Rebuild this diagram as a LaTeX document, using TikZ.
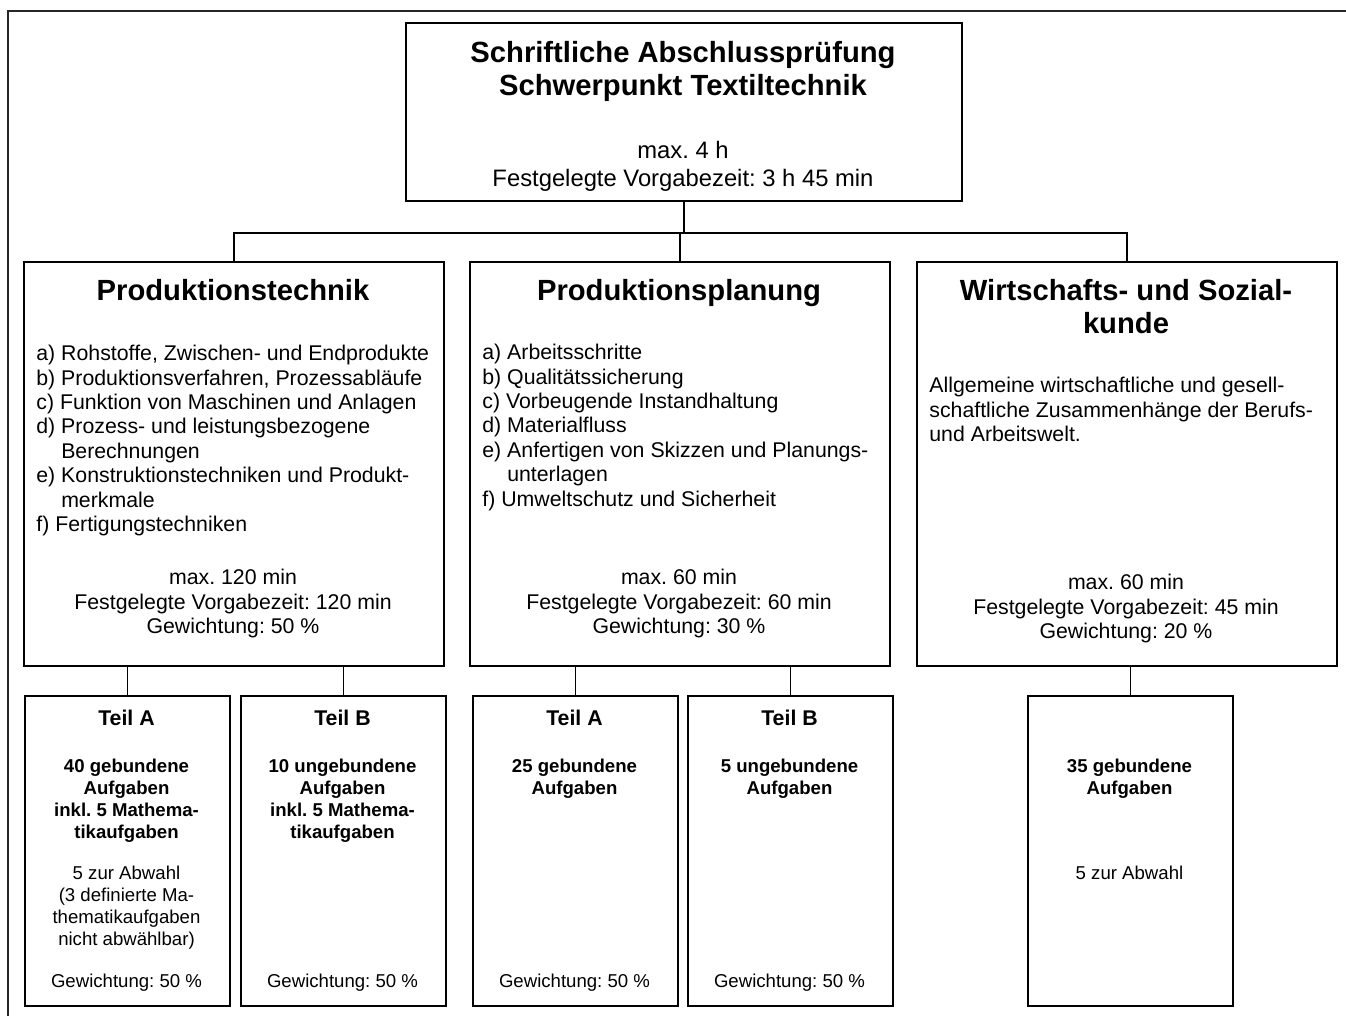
\documentclass[tikz,border=0pt]{standalone}
\usepackage{fontspec}
\setmainfont{Liberation Sans}
\usetikzlibrary{positioning, calc}
\frenchspacing

\begin{document}
\begin{tikzpicture}[
    x=0.5pt, y=-0.5pt,
    box/.style={draw=black, line width=1pt, anchor=north west, inner sep=0pt},
    link/.style={draw=black, line width=0.8pt},
    frame/.style={draw=black!85, line width=1pt},
    headline/.style={font=\fontsize{14.6}{16.5}\selectfont\bfseries, align=center, anchor=base, inner sep=0pt},
    maintime/.style={font=\fontsize{11.9}{14}\selectfont, align=center, anchor=base, inner sep=0pt},
    itemlist/.style={font=\fontsize{10.65}{12.2}\selectfont, align=left, anchor=base west, inner sep=0pt},
    timing/.style={font=\fontsize{10.65}{12.2}\selectfont, align=center, anchor=base, inner sep=0pt},
    parthead/.style={font=\fontsize{10.65}{12.2}\selectfont\bfseries, anchor=base, inner sep=0pt},
    tasks/.style={font=\fontsize{9.3}{10.9}\selectfont\bfseries, align=center, anchor=base, inner sep=0pt},
    smalltext/.style={font=\fontsize{9.3}{11}\selectfont, align=center, anchor=base, inner sep=0pt}
]
    \useasboundingbox (0,0) rectangle (1346,1016);
    \draw[frame] (8,1016) -- (8,11) -- (1346,11);

    % top box (text nodes sit on the baseline of their last line)
    \node[box, minimum width=278pt, minimum height=89pt] (exam) at (405,22) {};
    \node[headline] (examtitle) at (683,95.5) {Schriftliche Abschlussprüfung\\Schwerpunkt Textiltechnik};
    \node[maintime] (examtime) at (683,186.6) {max. 4 h\\Festgelegte Vorgabezeit: 3 h 45 min};

    % subjects
    \node[box, minimum width=210pt, minimum height=202pt] (tech) at (23,261) {};
    \node[box, minimum width=210pt, minimum height=202pt] (plan) at (469,261) {};
    \node[box, minimum width=210pt, minimum height=202pt] (wiso) at (916,261) {};

    \node[headline] (techtitle) at (233,300.5) {Produktionstechnik};
    \node[itemlist] (techlist) at (36,531.5) {a) Rohstoffe, Zwischen- und Endprodukte\\
        b) Produktionsverfahren, Prozessabläufe\\
        c) Funktion von Maschinen und Anlagen\\
        d) Prozess- und leistungsbezogene\\
        \hphantom{d)~}Berechnungen\\
        e) Konstruktionstechniken und Produkt-\\
        \hphantom{e)~}merkmale\\
        f) Fertigungstechniken};
    \node[timing] (techtime) at (233,633.5) {max. 120 min\\Festgelegte Vorgabezeit: 120 min\\Gewichtung: 50 \%};

    \node[headline] (plantitle) at (679,300.5) {Produktionsplanung};
    \node[itemlist] (planlist) at (482,506.1) {a) Arbeitsschritte\\
        b) Qualitätssicherung\\
        c) Vorbeugende Instandhaltung\\
        d) Materialfluss\\
        e) Anfertigen von Skizzen und Planungs-\\
        \hphantom{e)~}unterlagen\\
        f) Umweltschutz und Sicherheit};
    \node[timing] (plantime) at (679,633.5) {max. 60 min\\Festgelegte Vorgabezeit: 60 min\\Gewichtung: 30 \%};

    \node[headline] (wisotitle) at (1126,333.5) {Wirtschafts- und Sozial-\\kunde};
    \node[itemlist] (wisotext) at (929,441.5) {Allgemeine wirtschaftliche und gesell-\\
        schaftliche Zusammenhänge der Berufs-\\
        und Arbeitswelt.};
    \node[timing] (wisotime) at (1126,638.5) {max. 60 min\\Festgelegte Vorgabezeit: 45 min\\Gewichtung: 20 \%};

    % parts
    \node[box, minimum width=102.5pt, minimum height=155pt] (techA) at (24,695) {};
    \node[box, minimum width=102.5pt, minimum height=155pt] (techB) at (240,695) {};
    \node[box, minimum width=102.5pt, minimum height=155pt] (planA) at (472,695) {};
    \node[box, minimum width=102.5pt, minimum height=155pt] (planB) at (687,695) {};
    \node[box, minimum width=102.5pt, minimum height=155pt] (wisoA) at (1027,695) {};

    \node[parthead] (techAhead) at (126.5,725.7) {Teil A};
    \node[tasks] (techAtasks) at (126.5,838.1) {40 gebundene\\Aufgaben\\inkl. 5 Mathema-\\tikaufgaben};
    \node[smalltext] (techAchoice) at (126.5,945.7) {5 zur Abwahl\\(3 definierte Ma-\\thematikaufgaben\\nicht abwählbar)};
    \node[smalltext] (techAweight) at (126.5,987.7) {Gewichtung: 50 \%};

    \node[parthead] (techBhead) at (342.5,725.7) {Teil B};
    \node[tasks] (techBtasks) at (342.5,838.1) {10 ungebundene\\Aufgaben\\inkl. 5 Mathema-\\tikaufgaben};
    \node[smalltext] (techBweight) at (342.5,987.7) {Gewichtung: 50 \%};

    \node[parthead] (planAhead) at (574.5,725.7) {Teil A};
    \node[tasks] (planAtasks) at (574.5,794.5) {25 gebundene\\Aufgaben};
    \node[smalltext] (planAweight) at (574.5,987.7) {Gewichtung: 50 \%};

    \node[parthead] (planBhead) at (789.5,725.7) {Teil B};
    \node[tasks] (planBtasks) at (789.5,794.5) {5 ungebundene\\Aufgaben};
    \node[smalltext] (planBweight) at (789.5,987.7) {Gewichtung: 50 \%};

    \node[tasks] (wisoAtasks) at (1129.5,794.5) {35 gebundene\\Aufgaben};
    \node[smalltext] (wisoAchoice) at (1129.5,879.7) {5 zur Abwahl};

    % connections
    \draw[link] (exam.south) -- ++(0,31) coordinate (bar);
    \draw[link] (tech.north) |- (bar) -| (wiso.north);
    \draw[link] (plan.north) -- (plan.north |- bar);
    \draw[link] (techA.north) -- (techA.north |- tech.south);
    \draw[link] (techB.north) -- (techB.north |- tech.south);
    \draw[link] (planA.north) -- (planA.north |- plan.south);
    \draw[link] (planB.north) -- (planB.north |- plan.south);
    \draw[link] (wisoA.north) -- (wisoA.north |- wiso.south);
\end{tikzpicture}
\end{document}
